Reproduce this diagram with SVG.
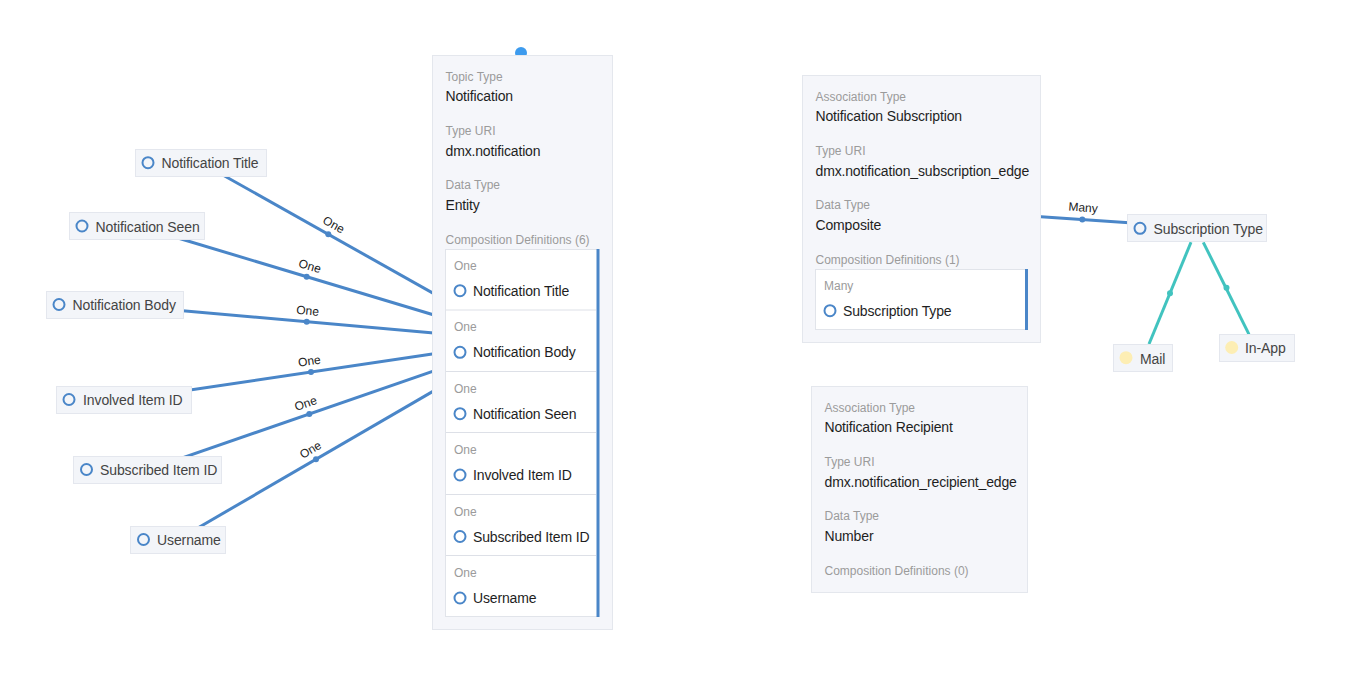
<svg xmlns="http://www.w3.org/2000/svg" width="1348" height="690" viewBox="0 0 1348 690">
<style>
text{font-family:"Liberation Sans",Arial,sans-serif}
.bg{fill:#ffffff}
.panel{fill:#f5f6fa;stroke:#e4e7ed;stroke-width:1}
.list{fill:#ffffff;stroke:#e1e4ea;stroke-width:1}
.sep{stroke:#dde0e7;stroke-width:1}
.bar{fill:#4a86c8}
.lbl{font-size:12px;fill:#9b9b9b}
.val{font-size:14px;fill:#1e1e1e;letter-spacing:-0.15px}
.nbox{fill:#f3f5f9;stroke:#e4e7ee;stroke-width:1}
.ntext{font-size:14px;fill:#444444;letter-spacing:-0.1px}
.ring{fill:none;stroke:#4a86c8;stroke-width:2}
.inst{fill:#fdeeb4}
.edge{stroke:#4a86c8;stroke-width:3;fill:none}
.tedge{stroke:#41c3bf;stroke-width:3;fill:none}
.dot{fill:#4a86c8}
.tdot{fill:#41c3bf}
.elbl{font-size:12px;fill:#222222;text-anchor:middle}
</style>
<rect class="bg" x="0" y="0" width="1348" height="690"/>
<g id="connectors">
  <line class="edge" x1="201" y1="162.7" x2="455.6" y2="305.9"/>
  <circle class="dot" cx="328.3" cy="234.3" r="3"/>
  <text class="elbl" transform="translate(328.3,234.3) rotate(29.1)" x="0" y="-7">One</text>

  <line class="edge" x1="137" y1="225.7" x2="476.4" y2="327.7"/>
  <circle class="dot" cx="306.7" cy="276.7" r="3"/>
  <text class="elbl" transform="translate(306.7,276.7) rotate(16.7)" x="0" y="-7">One</text>

  <line class="edge" x1="115" y1="304.7" x2="498.4" y2="338.7"/>
  <circle class="dot" cx="306.7" cy="321.7" r="3"/>
  <text class="elbl" transform="translate(306.7,321.7) rotate(5.1)" x="0" y="-7">One</text>

  <line class="edge" x1="124.2" y1="399.7" x2="497.8" y2="344.3"/>
  <circle class="dot" cx="311" cy="372" r="3"/>
  <text class="elbl" transform="translate(311,372) rotate(-8.4)" x="0" y="-7">One</text>

  <line class="edge" x1="147.7" y1="469.8" x2="470.9" y2="358.2"/>
  <circle class="dot" cx="309.3" cy="414" r="3"/>
  <text class="elbl" transform="translate(309.3,414) rotate(-19)" x="0" y="-7">One</text>

  <line class="edge" x1="178" y1="539.5" x2="454" y2="379.1"/>
  <circle class="dot" cx="316" cy="459.3" r="3"/>
  <text class="elbl" transform="translate(316,459.3) rotate(-30.2)" x="0" y="-7">One</text>

  <line class="edge" x1="1030" y1="215.9" x2="1140" y2="223.6"/>
  <circle class="dot" cx="1082.3" cy="219.6" r="3"/>
  <text class="elbl" transform="translate(1082.3,219.6) rotate(4)" x="0" y="-8">Many</text>

  <line class="tedge" x1="1191" y1="242.3" x2="1149" y2="344"/>
  <circle class="tdot" cx="1170" cy="293.3" r="3"/>
  <line class="tedge" x1="1203.3" y1="242.3" x2="1249" y2="334.3"/>
  <circle class="tdot" cx="1226.5" cy="287.8" r="3"/>
</g>

<g id="node-notification">
  <circle cx="521" cy="53" r="6" fill="#3d9bee"/>
  <rect class="panel" x="432.5" y="55.5" width="180" height="574"/>
  <text class="lbl" x="445.5" y="81">Topic Type</text>
  <text class="val" x="445.5" y="101">Notification</text>
  <text class="lbl" x="445.5" y="135">Type URI</text>
  <text class="val" x="445.5" y="155.5">dmx.notification</text>
  <text class="lbl" x="445.5" y="189">Data Type</text>
  <text class="val" x="445.5" y="210">Entity</text>
  <text class="lbl" x="445.5" y="244">Composition Definitions (6)</text>
  <rect class="list" x="445.5" y="249.5" width="152" height="367"/>
  <rect class="bar" x="596.5" y="249" width="3" height="368"/>
  <line class="sep" x1="446" y1="310" x2="596" y2="310"/>
  <line class="sep" x1="446" y1="371.5" x2="596" y2="371.5"/>
  <line class="sep" x1="446" y1="432.5" x2="596" y2="432.5"/>
  <line class="sep" x1="446" y1="494.5" x2="596" y2="494.5"/>
  <line class="sep" x1="446" y1="555.5" x2="596" y2="555.5"/>
  <text class="lbl" x="454" y="270">One</text>
  <circle class="ring" cx="460" cy="290.7" r="5.5"/>
  <text class="val" x="473" y="296">Notification Title</text>
  <text class="lbl" x="454" y="331">One</text>
  <circle class="ring" cx="460" cy="352.3" r="5.5"/>
  <text class="val" x="473" y="357">Notification Body</text>
  <text class="lbl" x="454" y="393">One</text>
  <circle class="ring" cx="460" cy="413.7" r="5.5"/>
  <text class="val" x="473" y="418.5">Notification Seen</text>
  <text class="lbl" x="454" y="454">One</text>
  <circle class="ring" cx="460" cy="475" r="5.5"/>
  <text class="val" x="473" y="480">Involved Item ID</text>
  <text class="lbl" x="454" y="516">One</text>
  <circle class="ring" cx="460" cy="536.5" r="5.5"/>
  <text class="val" x="473" y="541.5">Subscribed Item ID</text>
  <text class="lbl" x="454" y="577">One</text>
  <circle class="ring" cx="460" cy="598" r="5.5"/>
  <text class="val" x="473" y="603">Username</text>
</g>

<g id="node-notification-title">
  <rect class="nbox" x="135.5" y="149.5" width="131" height="27"/>
  <circle class="ring" cx="148" cy="162.7" r="5.5"/>
  <text class="ntext" x="161.5" y="168">Notification Title</text>
</g>
<g id="node-notification-seen">
  <rect class="nbox" x="69.5" y="212.5" width="135" height="27"/>
  <circle class="ring" cx="82" cy="226" r="5.5"/>
  <text class="ntext" x="95.5" y="231.5">Notification Seen</text>
</g>
<g id="node-notification-body">
  <rect class="nbox" x="46.5" y="291.5" width="137" height="27"/>
  <circle class="ring" cx="59" cy="304.5" r="5.5"/>
  <text class="ntext" x="72.5" y="310">Notification Body</text>
</g>
<g id="node-involved-item-id">
  <rect class="nbox" x="56.5" y="386.5" width="135" height="27"/>
  <circle class="ring" cx="69" cy="399.5" r="5.5"/>
  <text class="ntext" x="83" y="405">Involved Item ID</text>
</g>
<g id="node-subscribed-item-id">
  <rect class="nbox" x="73.5" y="456.5" width="148" height="27"/>
  <circle class="ring" cx="86.5" cy="469.5" r="5.5"/>
  <text class="ntext" x="100" y="475">Subscribed Item ID</text>
</g>
<g id="node-username">
  <rect class="nbox" x="130.5" y="526.5" width="95" height="27"/>
  <circle class="ring" cx="143.5" cy="539.5" r="5.5"/>
  <text class="ntext" x="157" y="545">Username</text>
</g>

<g id="node-notification-subscription">
  <rect class="panel" x="802.5" y="75.5" width="238" height="267"/>
  <text class="lbl" x="815.5" y="101">Association Type</text>
  <text class="val" x="815.5" y="121">Notification Subscription</text>
  <text class="lbl" x="815.5" y="155">Type URI</text>
  <text class="val" x="815.5" y="175.5">dmx.notification_subscription_edge</text>
  <text class="lbl" x="815.5" y="209">Data Type</text>
  <text class="val" x="815.5" y="229.5">Composite</text>
  <text class="lbl" x="815.5" y="264">Composition Definitions (1)</text>
  <rect class="list" x="815.5" y="269.5" width="211" height="60"/>
  <rect class="bar" x="1025" y="269" width="3" height="61"/>
  <text class="lbl" x="824" y="290">Many</text>
  <circle class="ring" cx="830" cy="310.7" r="5.5"/>
  <text class="val" x="843" y="316">Subscription Type</text>
</g>

<g id="node-notification-recipient">
  <rect class="panel" x="811.5" y="386.5" width="216" height="206"/>
  <text class="lbl" x="824.5" y="412">Association Type</text>
  <text class="val" x="824.5" y="432">Notification Recipient</text>
  <text class="lbl" x="824.5" y="466">Type URI</text>
  <text class="val" x="824.5" y="487">dmx.notification_recipient_edge</text>
  <text class="lbl" x="824.5" y="520">Data Type</text>
  <text class="val" x="824.5" y="541">Number</text>
  <text class="lbl" x="824.5" y="575">Composition Definitions (0)</text>
</g>

<g id="node-subscription-type">
  <rect class="nbox" x="1127.5" y="214.5" width="139" height="27"/>
  <circle class="ring" cx="1140" cy="228.3" r="5.5"/>
  <text class="ntext" x="1153.5" y="234">Subscription Type</text>
</g>
<g id="node-mail">
  <rect class="nbox" x="1113.5" y="344.5" width="59" height="27"/>
  <circle class="inst" cx="1126" cy="357.7" r="6.5"/>
  <text class="ntext" x="1140" y="363.5">Mail</text>
</g>
<g id="node-in-app">
  <rect class="nbox" x="1219.5" y="334.5" width="75" height="27"/>
  <circle class="inst" cx="1231.7" cy="347.5" r="6.5"/>
  <text class="ntext" x="1245" y="353">In-App</text>
</g>
</svg>
